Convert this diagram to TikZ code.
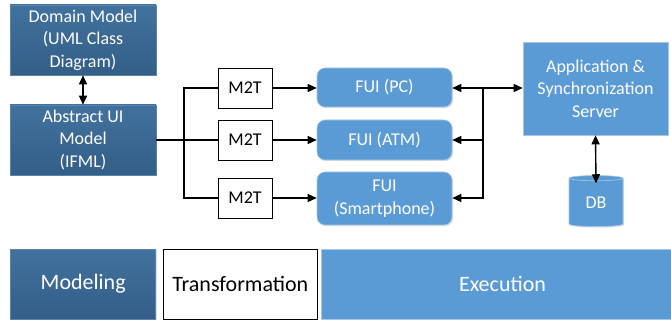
\documentclass[tikz,border=0pt]{standalone}
\usepackage{fontspec}
\setmainfont{Carlito}
\usetikzlibrary{arrows.meta,shapes.geometric,calc,shadows}
\definecolor{darkbl}{HTML}{3A6690}
\definecolor{darktop}{HTML}{41729E}
\definecolor{darkbot}{HTML}{335E87}
\definecolor{darkbd}{HTML}{5A84AC}
\definecolor{lightbl}{HTML}{5B9BD5}
\definecolor{lightbd}{HTML}{A7C6E6}
\tikzset{
  shd/.style={drop shadow={opacity=0.25,shadow xshift=1.2pt,shadow yshift=-1.2pt}},
  darkbox/.style={rectangle,draw=darkbd,line width=0.6pt,top color=darktop,bottom color=darkbot,text=white,align=center,font=\fontsize{18}{22.5}\selectfont,inner sep=0pt,shd},
  lightbox/.style={rectangle,draw=lightbd,line width=0.6pt,fill=lightbl,text=white,align=center,font=\fontsize{18}{22.5}\selectfont,inner sep=0pt,shd},
  fuibox/.style={lightbox,rounded corners=8pt},
  m2tbox/.style={rectangle,draw=black,line width=0.8pt,fill=white,text=black,font=\fontsize{18}{22.5}\selectfont,inner sep=0pt,minimum width=54pt,minimum height=40pt},
  conn/.style={line width=1.4pt,draw=black},
  arr/.style={conn,-{Triangle[length=9pt,width=8pt]}},
  darr/.style={conn,{Triangle[length=9pt,width=8pt]}-{Triangle[length=9pt,width=8pt]}},
  barfont/.style={font=\fontsize{22}{26}\selectfont},
}
\begin{document}
\begin{tikzpicture}[x=1pt,y=-1pt]
\useasboundingbox (0,0) rectangle (671,320);
\fill[white] (0,0) rectangle (671,320);
% modeling column
\node[darkbox,minimum width=146pt,minimum height=70pt] (dm) at (83,40) {Domain Model\\(UML Class\\Diagram)};
\node[darkbox,minimum width=146pt,minimum height=70pt] (aui) at (83,140) {Abstract UI\\Model\\(IFML)};
% transformations
\node[m2tbox] (m1) at (245,88) {M2T};
\node[m2tbox] (m2) at (245,140) {M2T};
\node[m2tbox] (m3) at (245,198) {M2T};
% FUIs
\node[fuibox,minimum width=135pt,minimum height=39pt] (f1) at (384.5,87.5) {FUI (PC)};
\node[fuibox,minimum width=135pt,minimum height=40pt] (f2) at (384.5,140) {FUI (ATM)};
\node[fuibox,minimum width=135pt,minimum height=53pt] (f3) at (384.5,198.5) {FUI\\(Smartphone)};
% server and DB
\node[lightbox,minimum width=145pt,minimum height=93pt] (srv) at (595.5,88.5) {Application \&\\Synchronization\\Server};
\node[cylinder,shape border rotate=90,aspect=0.25,draw=lightbd,line width=0.6pt,fill=lightbl,text=white,font=\fontsize{18}{22.5}\selectfont,minimum width=54pt,minimum height=51pt,inner sep=0pt,shd] (db) at (596,202.5) {DB};
% bottom bars
\node[darkbox,minimum width=145pt,minimum height=70pt,barfont] (mod) at (83.2,284) {Modeling};
\node[rectangle,draw=black,line width=0.8pt,fill=white,minimum width=154pt,minimum height=70pt,inner sep=0pt,barfont] (tra) at (240.3,284) {Transformation};
\node[lightbox,minimum width=363pt,minimum height=70pt,barfont] (exe) at (502.5,284) {Execution};
% connectors
\draw[darr] (dm.south) -- (aui.north);
\coordinate (bl) at (184,140);
\draw[conn] (aui.east) -- (m2.west);
\draw[conn] (bl) |- (m1.west);
\draw[conn] (bl) |- (m3.west);
\draw[arr] (m1.east) -- (f1.west |- m1.east);
\draw[arr] (m2.east) -- (f2.west |- m2.east);
\draw[arr] (m3.east) -- (f3.west |- m3.east);
\coordinate (br) at (483,88);
\draw[darr] (f1.east |- br) -- (srv.west |- br);
\draw[arr] (br) |- (f2.east);
\draw[arr] (br) |- (f3.east |- m3.east);
\draw[darr] (srv.south) -- ($(db.north)+(0,8)$);
\end{tikzpicture}
\end{document}
